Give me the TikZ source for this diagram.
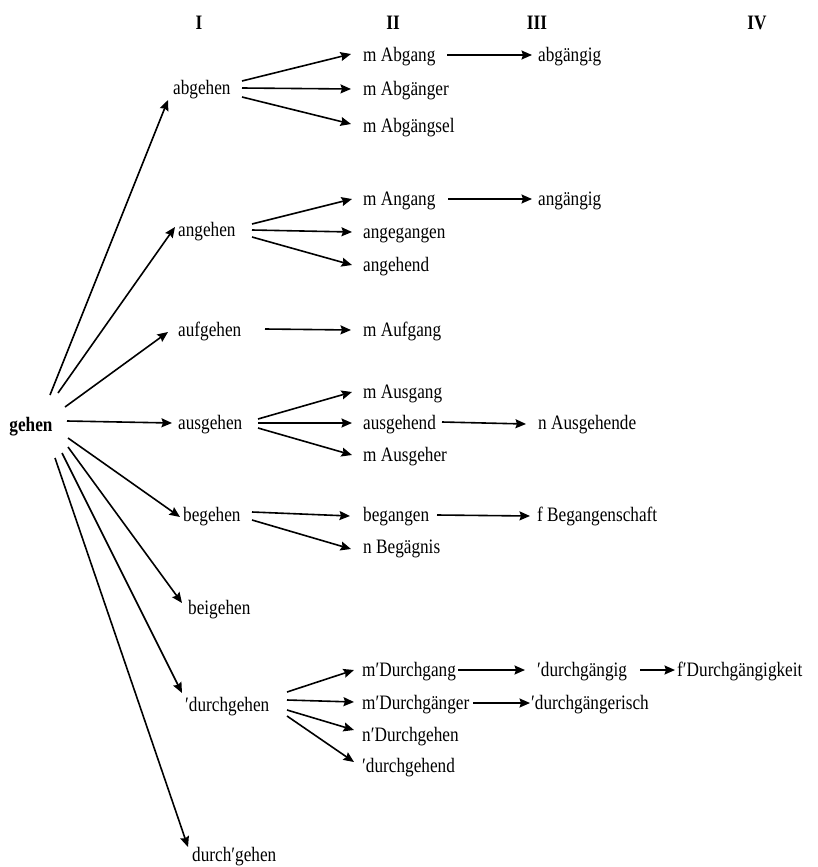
\documentclass[tikz,border=0pt]{standalone}
\usepackage{fontspec}
\setmainfont{Liberation Serif}[FakeStretch=0.84]
\usetikzlibrary{calc,arrows.meta}
\tikzset{
  w/.style={anchor=west,inner sep=0pt,text height=13.4pt,text depth=0pt,font=\fontsize{20.5pt}{24pt}\selectfont},
  hd/.style={anchor=center,inner sep=0pt,text height=13.4pt,text depth=0pt,font=\fontsize{20.5pt}{24pt}\selectfont\bfseries},
  arr/.style={line width=1.6pt,-{Stealth[length=10.5pt,width=9pt,inset=1.5pt]}}
}
\begin{document}
\begin{tikzpicture}[x=1pt,y=-1pt]
\useasboundingbox (0,0) rectangle (818,867);
% headers
\node[hd] (hI) at (199,23) {I};
\node[hd] (hII) at (393,23) {II};
\node[hd] (hIII) at (537,23) {III};
\node[hd] (hIV) at (757,23) {IV};
% root
\node[hd] (gehen) at (31,425) {gehen};
% column I
\node[w] (abgehen) at (173,88) {abgehen};
\node[w] (angehen) at (178,230) {angehen};
\node[w] (aufgehen) at (178,330) {aufgehen};
\node[w] (ausgehen) at (178,423) {ausgehen};
\node[w] (begehen) at (183,515) {begehen};
\node[w] (beigehen) at (188,608) {beigehen};
\node[w] (durchgehenA) at (185,705) {′durchgehen};
\node[w] (durchgehenB) at (192,855) {durch′gehen};
% column II
\node[w] (mAbgang) at (363,55) {m Abgang};
\node[w] (mAbgaenger) at (363,89) {m Abgänger};
\node[w] (mAbgaengsel) at (363,126) {m Abgängsel};
\node[w] (mAngang) at (363,199) {m Angang};
\node[w] (angegangen) at (363,232) {angegangen};
\node[w] (angehend) at (363,265) {angehend};
\node[w] (mAufgang) at (363,330) {m Aufgang};
\node[w] (mAusgang) at (363,392) {m Ausgang};
\node[w] (ausgehend) at (363,423) {ausgehend};
\node[w] (mAusgeher) at (363,455) {m Ausgeher};
\node[w] (begangen) at (363,515) {begangen};
\node[w] (nBegaegnis) at (363,547) {n Begägnis};
\node[w] (mDurchgang) at (362,670) {m′Durchgang};
\node[w] (mDurchgaenger) at (362,703) {m′Durchgänger};
\node[w] (nDurchgehen) at (362,735) {n′Durchgehen};
\node[w] (durchgehend) at (362,766) {′durchgehend};
% column III
\node[w] (abgaengig) at (538,55) {abgängig};
\node[w] (angaengig) at (538,199) {angängig};
\node[w] (nAusgehende) at (538,423) {n Ausgehende};
\node[w] (fBegangenschaft) at (537,515) {f Begangenschaft};
\node[w] (durchgaengig) at (537,670) {′durchgängig};
\node[w] (durchgaengerisch) at (531,703) {′durchgängerisch};
% column IV
\node[w] (fDurchgaengigkeit) at (677,670) {f′Durchgängigkeit};
% gehen -> I
\draw[arr] ($(gehen)+(19,-30)$) -- ($(abgehen.west)+(-5,12)$);
\draw[arr] ($(gehen)+(27,-32)$) -- ($(angehen.west)+(-3,-3)$);
\draw[arr] ($(gehen)+(34,-18)$) -- ($(aufgehen.west)+(-10,2)$);
\draw[arr] ($(gehen)+(36,-4)$) -- ($(ausgehen.west)+(-6,0)$);
\draw[arr] ($(gehen)+(37,13)$) -- ($(begehen.west)+(-3,2)$);
\draw[arr] ($(gehen)+(37,22)$) -- ($(beigehen.west)+(-6,-5)$);
\draw[arr] ($(gehen)+(31,28)$) -- ($(durchgehenA.west)+(-3,-12)$);
\draw[arr] ($(gehen)+(24,33)$) -- ($(durchgehenB.west)+(-4,-8)$);
% I -> II
\draw[arr] ($(abgehen.west)+(69,-7)$) -- ($(mAbgang.west)+(-12,-1)$);
\draw[arr] ($(abgehen.west)+(69,0)$) -- ($(mAbgaenger.west)+(-12,0)$);
\draw[arr] ($(abgehen.west)+(69,9)$) -- ($(mAbgaengsel.west)+(-12,-2)$);
\draw[arr] ($(angehen.west)+(74,-6)$) -- ($(mAngang.west)+(-11,0)$);
\draw[arr] ($(angehen.west)+(74,0)$) -- ($(angegangen.west)+(-11,0)$);
\draw[arr] ($(angehen.west)+(74,7)$) -- ($(angehend.west)+(-11,0)$);
\draw[arr] ($(aufgehen.west)+(87,-1)$) -- ($(mAufgang.west)+(-12,0)$);
\draw[arr] ($(ausgehen.west)+(80,-4)$) -- ($(mAusgang.west)+(-11,0)$);
\draw[arr] ($(ausgehen.west)+(80,0)$) -- ($(ausgehend.west)+(-11,0)$);
\draw[arr] ($(ausgehen.west)+(80,5)$) -- ($(mAusgeher.west)+(-11,0)$);
\draw[arr] ($(begehen.west)+(69,-3)$) -- ($(begangen.west)+(-13,1)$);
\draw[arr] ($(begehen.west)+(69,5)$) -- ($(nBegaegnis.west)+(-12,2)$);
\draw[arr] ($(durchgehenA.west)+(102,-13)$) -- ($(mDurchgang.west)+(-8,0)$);
\draw[arr] ($(durchgehenA.west)+(102,-5)$) -- ($(mDurchgaenger.west)+(-8,-1)$);
\draw[arr] ($(durchgehenA.west)+(102,5)$) -- ($(nDurchgehen.west)+(-8,-5)$);
\draw[arr] ($(durchgehenA.west)+(102,11)$) -- ($(durchgehend.west)+(-8,-4)$);
% II -> III
\draw[arr] ($(mAbgang.west)+(84,0)$) -- ($(abgaengig.west)+(-6,0)$);
\draw[arr] ($(mAngang.west)+(85,0)$) -- ($(angaengig.west)+(-6,0)$);
\draw[arr] ($(ausgehend.west)+(79,-1)$) -- ($(nAusgehende.west)+(-12,1)$);
\draw[arr] ($(begangen.west)+(74,0)$) -- ($(fBegangenschaft.west)+(-7,1)$);
\draw[arr] ($(mDurchgang.west)+(96,0)$) -- ($(durchgaengig.west)+(-12,0)$);
\draw[arr] ($(mDurchgaenger.west)+(111,0)$) -- ($(durchgaengerisch.west)+(-1,0)$);
% III -> IV
\draw[arr] ($(durchgaengig.west)+(103,0)$) -- ($(fDurchgaengigkeit.west)+(-2,0)$);
\end{tikzpicture}
\end{document}
